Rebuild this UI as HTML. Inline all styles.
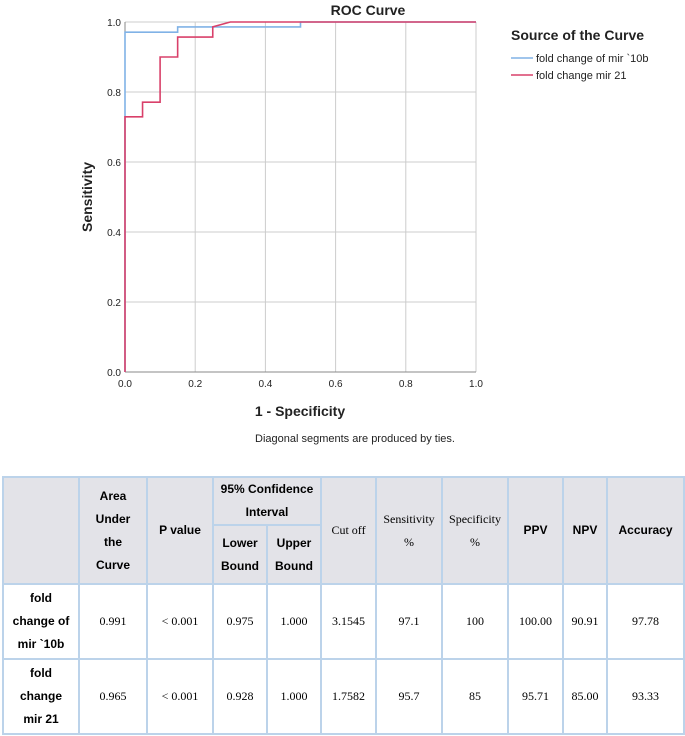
<!DOCTYPE html>
<html><head><meta charset="utf-8"><style>
body{margin:0;background:#fff;font-family:"Liberation Sans",Arial,sans-serif;}
#wrap{position:relative;width:685px;height:736px;overflow:hidden;}
table{position:absolute;left:2px;top:476px;border-collapse:collapse;width:681px;table-layout:fixed;}
td{border:2px solid #bcd3ea;text-align:center;font-size:12px;line-height:23px;padding:0;}
.h{background:#e3e3e8;font-weight:bold;}
.s{font-family:"Liberation Serif",serif;font-weight:normal;}
.v{font-family:"Liberation Serif",serif;font-size:12px;}
.r{font-weight:bold;}
</style></head><body><div id="wrap">
<svg id="chart" width="685" height="460" style="position:absolute;left:0;top:0"></svg>
<table>
<colgroup><col style="width:76px"><col style="width:68px"><col style="width:66px"><col style="width:54px"><col style="width:54px"><col style="width:55px"><col style="width:66px"><col style="width:66px"><col style="width:55px"><col style="width:44px"><col style="width:77px"></colgroup>
<tr style="height:45px"><td class="h" rowspan="2"></td><td class="h" rowspan="2">Area<br>Under<br>the<br>Curve</td><td class="h" rowspan="2">P value</td><td class="h" colspan="2">95% Confidence<br>Interval</td><td class="h s" rowspan="2">Cut off</td><td class="h s" rowspan="2">Sensitivity<br>%</td><td class="h s" rowspan="2">Specificity<br>%</td><td class="h" rowspan="2">PPV</td><td class="h" rowspan="2">NPV</td><td class="h" rowspan="2">Accuracy</td></tr>
<tr style="height:59px"><td class="h">Lower<br>Bound</td><td class="h">Upper<br>Bound</td></tr>
<tr style="height:75px"><td class="r">fold<br>change of<br>mir `10b</td><td class="v">0.991</td><td class="v">&lt; 0.001</td><td class="v">0.975</td><td class="v">1.000</td><td class="v">3.1545</td><td class="v">97.1</td><td class="v">100</td><td class="v">100.00</td><td class="v">90.91</td><td class="v">97.78</td></tr>
<tr style="height:75px"><td class="r">fold<br>change<br>mir 21</td><td class="v">0.965</td><td class="v">&lt; 0.001</td><td class="v">0.928</td><td class="v">1.000</td><td class="v">1.7582</td><td class="v">95.7</td><td class="v">85</td><td class="v">95.71</td><td class="v">85.00</td><td class="v">93.33</td></tr>
</table>
</div>
<script>
const ticks=[0,0.2,0.4,0.6,0.8,1.0];
const tickLabels=["0.0","0.2","0.4","0.6","0.8","1.0"];
const mir10bX=[0,0,0.15,0.15,0.5,0.5,1];
const mir10bY=[0,0.971,0.971,0.986,0.986,1,1];
const mir21X=[0,0,0.05,0.05,0.1,0.1,0.15,0.15,0.25,0.25,0.3,1];
const mir21Y=[0,0.729,0.729,0.771,0.771,0.9,0.9,0.957,0.957,0.986,1,1];
const svg=document.getElementById('chart');const NS='http://www.w3.org/2000/svg';
const X0=125,X1=476,Y0=372,Y1=22;
const sx=v=>X0+v*(X1-X0), sy=v=>Y0-v*(Y0-Y1);
function mk(t,a,txt){const e=document.createElementNS(NS,t);for(const k in a)e.setAttribute(k,a[k]);if(txt!==undefined)e.textContent=txt;svg.appendChild(e);return e;}
ticks.forEach((t,i)=>{
 let g=mk('line',{x1:sx(t),x2:sx(t),y1:Y1,y2:Y0,stroke:'#ccc','stroke-width':1});
 
 
 g=mk('line',{x1:X0,x2:X1,y1:sy(t),y2:sy(t),stroke:'#ccc','stroke-width':1});
 
 
 let l=mk('text',{x:sx(t),y:Y0+15,'font-size':10,'text-anchor':'middle',fill:'#222'},tickLabels[i]);
 
 
 l=mk('text',{x:X0-4,y:sy(t)+4,'font-size':10,'text-anchor':'end',fill:'#222'},tickLabels[i]);
 
 
});
let a=mk('line',{x1:X0,x2:X1,y1:Y0,y2:Y0,stroke:'#888'});
a=mk('line',{x1:X0,x2:X0,y1:Y1,y2:Y0,stroke:'#888'});
function pts(xs,ys){return xs.map((x,i)=>sx(x)+','+sy(ys[i])).join(' ');}
let p=mk('polyline',{points:pts(mir10bX,mir10bY),fill:'none',stroke:'#80b2e6','stroke-width':1.6});


p=mk('polyline',{points:pts(mir21X,mir21Y),fill:'none',stroke:'#d9406a','stroke-width':1.6});


let t=mk('text',{x:368,y:15,'font-size':14,'font-weight':'bold','text-anchor':'middle',fill:'#222'},'ROC Curve');

t=mk('text',{x:300,y:416,'font-size':14,'font-weight':'bold','text-anchor':'middle',fill:'#222'},'1 - Specificity');

t=mk('text',{x:92,y:197,'font-size':14,'font-weight':'bold','text-anchor':'middle',fill:'#222',transform:'rotate(-90 92 197)'},'Sensitivity');

t=mk('text',{x:355,y:442,'font-size':11,'text-anchor':'middle',fill:'#222'},'Diagonal segments are produced by ties.');

t=mk('text',{x:511,y:40,'font-size':14,'font-weight':'bold',fill:'#222'},'Source of the Curve');

let l=mk('line',{x1:511,x2:533,y1:58,y2:58,stroke:'#80b2e6','stroke-width':1.6});
t=mk('text',{x:536,y:62,'font-size':11,fill:'#222'},'fold change of mir `10b');
l=mk('line',{x1:511,x2:533,y1:75,y2:75,stroke:'#d9406a','stroke-width':1.6});
t=mk('text',{x:536,y:79,'font-size':11,fill:'#222'},'fold change mir 21');
</script></body></html>
